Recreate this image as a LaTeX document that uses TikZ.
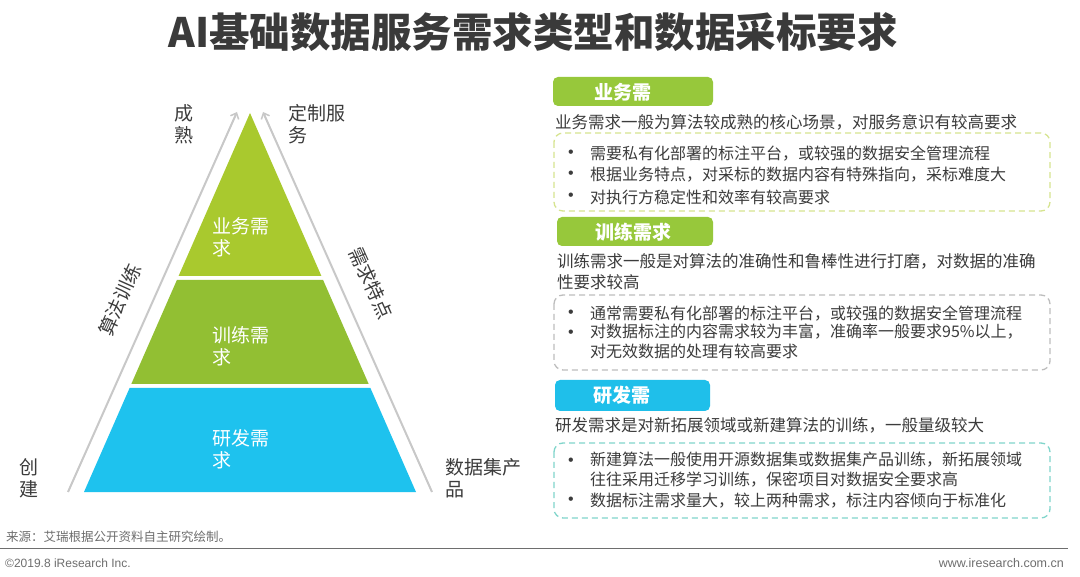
\documentclass[tikz,border=0pt]{standalone}
\usepackage{fontspec}
\setmainfont{Noto Sans CJK SC}
\newfontfamily\latinfont{Liberation Sans}
\usetikzlibrary{arrows.meta}
\definecolor{txt}{HTML}{3C3C3C}
\definecolor{titlec}{HTML}{3A3A3A}
\definecolor{gtop}{HTML}{A9C92E}
\definecolor{gmid}{HTML}{92BF33}
\definecolor{bband}{HTML}{1EC2EE}
\definecolor{tabg}{HTML}{97C83B}
\definecolor{tabb}{HTML}{1FBFEA}
\definecolor{arrowc}{HTML}{C8C8C8}
\definecolor{boxa}{HTML}{D6E48F}
\definecolor{boxb}{HTML}{BDBDBD}
\definecolor{boxc}{HTML}{80D5CB}
\definecolor{foot}{HTML}{6E6E6E}
\tikzset{
  bandtext/.style={anchor=west, inner sep=0pt, text=white, align=left, font=\fontsize{19}{22}\selectfont},
  sidelabel/.style={inner sep=0pt, text=txt, align=left, font=\fontsize{19}{22}\selectfont},
  edgearrow/.style={draw=arrowc, line width=2pt, -{Straight Barb[length=5pt,width=9pt,line width=1.5pt]}},
  tabbox/.style={rounded corners=5pt},
  tabtext/.style={text=white, inner sep=0pt, font=\fontsize{19}{22}\selectfont\bfseries},
  desc/.style={anchor=west, inner sep=0pt, text=txt, align=left, font=\fontsize{16.5}{21}\selectfont},
  bul/.style={anchor=west, inner sep=0pt, text=txt, font=\latinfont\fontsize{16}{18}\selectfont},
  bultext/.style={anchor=west, inner sep=0pt, text=txt, align=left, font=\fontsize{16}{19.5}\selectfont},
  dbox/.style={rounded corners=9pt, line width=1.3pt, dash pattern=on 6pt off 4pt},
}
\begin{document}
\begin{tikzpicture}[x=1pt,y=-1pt]
\useasboundingbox (0,0) rectangle (1080,577);
\fill[white] (0,0) rectangle (1080,577);

% title
\node[font=\fontsize{40.5}{44}\selectfont\bfseries, text=titlec, inner sep=0pt] (title) at (533,32) {AI基础数据服务需求类型和数据采标要求};

% pyramid
\coordinate (apex) at (250,113);
\fill[gtop] (apex) -- (321.4,276) -- (178.6,276) -- cycle;
\fill[gmid] (176.9,280) -- (323.1,280) -- (368.7,384) -- (131.3,384) -- cycle;
\fill[bband] (129.6,388) -- (370.4,388) -- (416,492) -- (84,492) -- cycle;

\node[bandtext] (b1) at (212,237) {业务需\\求};
\node[bandtext] (b2) at (212,346) {训练需\\求};
\node[bandtext] (b3) at (212,449) {研发需\\求};

% side arrows
\coordinate (la0) at (68,492);
\coordinate (la1) at (237,112);
\coordinate (ra0) at (432,492);
\coordinate (ra1) at (263,112);
\draw[edgearrow] (la0) -- (la1);
\draw[edgearrow] (ra0) -- (ra1);
\node[sidelabel, rotate=66] (algo) at (120,300) {算法训练};
\node[sidelabel, rotate=-66] (feat) at (371,283) {需求特点};

\node[sidelabel, align=center] (mature) at (184,124) {成\\熟};
\node[sidelabel, anchor=west] (custom) at (288,124) {定制服\\务};
\node[sidelabel, align=center] (create) at (29,478) {创\\建};
\node[sidelabel, anchor=west] (dataset) at (445,478) {数据集产\\品};

% section 1
\fill[tabg, tabbox] (553,77) rectangle (713,106);
\node[tabtext] (t1) at (623,92) {业务需};
\node[desc] (d1) at (555,122) {业务需求一般为算法较成熟的核心场景，对服务意识有较高要求};
\draw[boxa, dbox] (554,133) rectangle (1050,211);
\node[bul] (u11) at (568,154) {•};
\node[bultext] (s11) at (590,154) {需要私有化部署的标注平台，或较强的数据安全管理流程};
\node[bul] (u12) at (568,175) {•};
\node[bultext] (s12) at (590,175) {根据业务特点，对采标的数据内容有特殊指向，采标难度大};
\node[bul] (u13) at (568,197) {•};
\node[bultext] (s13) at (590,197) {对执行方稳定性和效率有较高要求};

% section 2
\fill[tabg, tabbox] (557,217) rectangle (713,246);
\node[tabtext] (t2) at (633,232) {训练需求};
\node[desc] (d2) at (557,272) {训练需求一般是对算法的准确性和鲁棒性进行打磨，对数据的准确\\性要求较高};
\draw[boxb, dbox] (554,295) rectangle (1050,370);
\node[bul] (u21) at (568,314) {•};
\node[bultext] (s21) at (590,314) {通常需要私有化部署的标注平台，或较强的数据安全管理流程};
\node[bul] (u22) at (568,334) {•};
\node[bultext, anchor=north west] (s22) at (590,324) {对数据标注的内容需求较为丰富，准确率一般要求95\%以上，\\对无效数据的处理有较高要求};

% section 3
\fill[tabb, tabbox] (555,380) rectangle (710,411);
\node[tabtext] (t3) at (622,395) {研发需};
\node[desc] (d3) at (555,425) {研发需求是对新拓展领域或新建算法的训练，一般量级较大};
\draw[boxc, dbox] (554,443) rectangle (1050,518);
\node[bul] (u31) at (568,462) {•};
\node[bultext, anchor=north west] (s31) at (590,452) {新建算法一般使用开源数据集或数据集产品训练，新拓展领域\\往往采用迁移学习训练，保密项目对数据安全要求高};
\node[bul] (u32) at (568,501) {•};
\node[bultext] (s32) at (590,501) {数据标注需求量大，较上两种需求，标注内容倾向于标准化};

% footer
\node[anchor=west, inner sep=0pt, text=foot, font=\fontsize{12.5}{14}\selectfont] (src) at (6,537) {来源：艾瑞根据公开资料自主研究绘制。};
\coordinate (r0) at (0,548);
\coordinate (r1) at (1068,548);
\draw[foot, line width=1pt] (r0) -- (r1);
\node[anchor=west, inner sep=0pt, text=foot, font=\latinfont\fontsize{12}{14}\selectfont] (copy) at (5,563) {©2019.8 iResearch Inc.};
\node[anchor=east, inner sep=0pt, text=foot, font=\latinfont\fontsize{12.5}{14}\selectfont] (web) at (1064,563) {www.iresearch.com.cn};
\end{tikzpicture}
\end{document}
